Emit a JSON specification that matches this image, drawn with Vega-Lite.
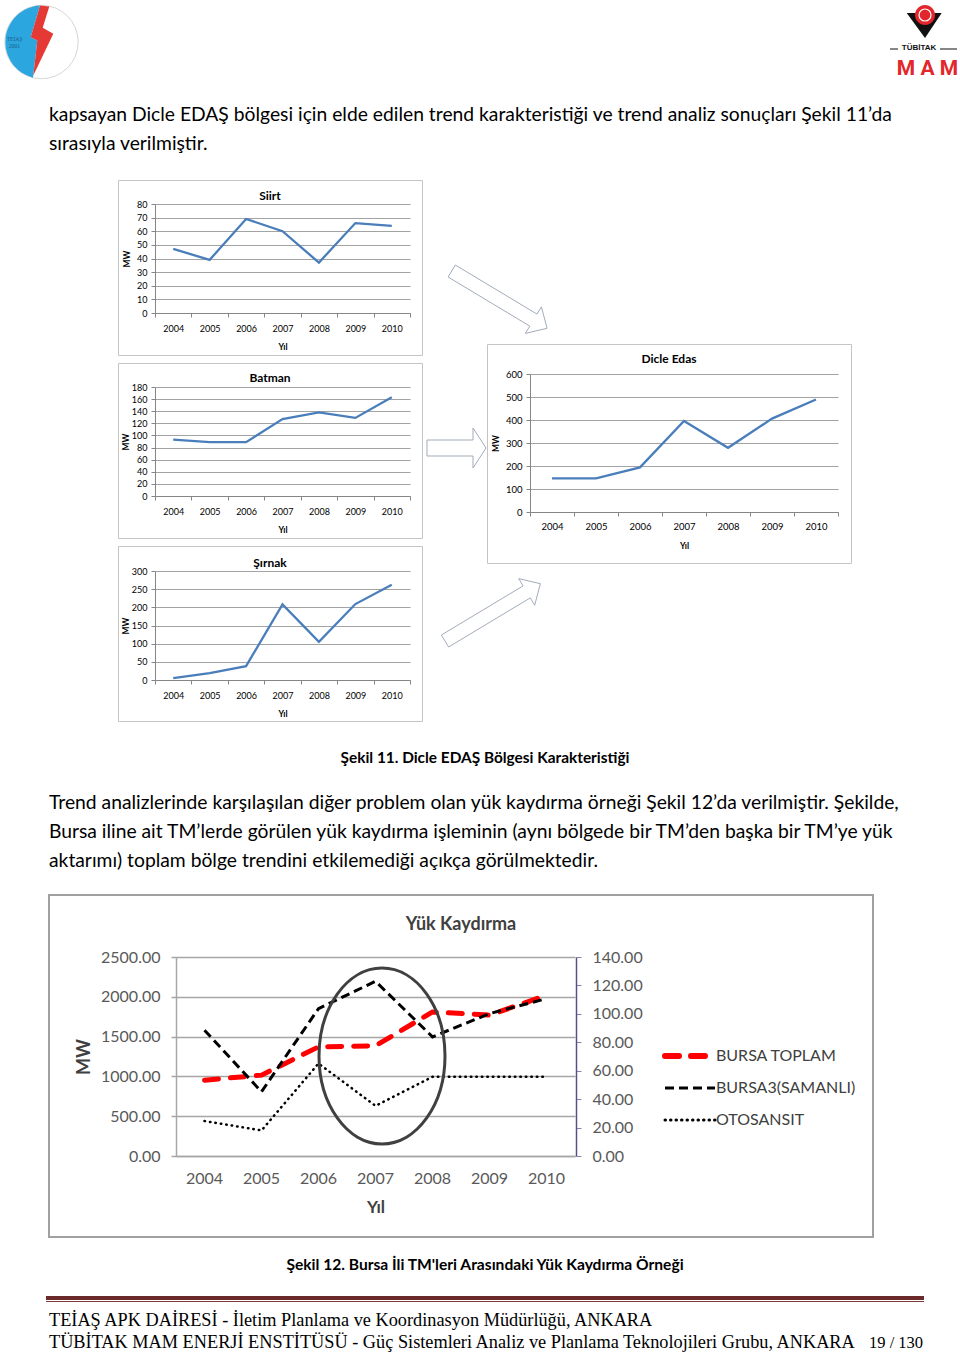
{
  "$schema": "https://vega.github.io/schema/vega-lite/v6.json",
  "padding": 0,
  "background": "white",
  "spacing": 0,
  "config": {
    "view": {"stroke": null},
    "font": "Lato",
    "axis": {"labelFont": "Lato", "titleFont": "Lato"},
    "legend": {"labelFont": "Lato"},
    "title": {"font": "Lato", "color": "#000000"}
  },
  "vconcat": [
    {
      "hconcat": [
        {
          "width": 83, "height": 84,
          "data": {"values": [{"logo": "TEİAŞ"}]},
          "layer": [
            {"mark": {"type": "point", "shape": "circle", "size": 5388, "filled": true, "fill": "white", "stroke": "#d6d6d6", "strokeWidth": 1, "opacity": 1}},
            {"mark": {"type": "point", "shape": "M -1.5 -36.5 A 36.7 36.7 0 0 0 -8.5 35.7 L -4.2 -1.5 L -10.8 -4.8 Z", "size": 4, "filled": true, "fill": "#2ba6de", "strokeWidth": 0, "opacity": 1}},
            {"mark": {"type": "point", "shape": "M -1.5 -36.5 L 7.8 -35.5 L 1.2 -14.2 L 11.8 -8.2 L -8.2 33.5 L -4.2 -1.5 L -10.8 -4.8 Z", "size": 4, "filled": true, "fill": "#e53935", "strokeWidth": 0, "opacity": 1}},
            {"mark": {"type": "text", "text": ["TEİAŞ", "2001"], "font": "Liberation Serif", "fontSize": 5.5, "lineHeight": 7, "dx": -27, "dy": -3, "baseline": "middle", "align": "center", "color": "#1b5f86"}}
          ]
        },
        {"width": 800, "height": 96, "data": {"values": []}, "mark": "point"},
        {
          "width": 77, "height": 84,
          "data": {"values": [{"logo": "TÜBİTAK MAM"}]},
          "layer": [
            {"mark": {"type": "point", "shape": "M -14.8 -29 L 20.2 -29 L 3.5 -4 Z", "size": 4, "filled": true, "fill": "#111111", "strokeWidth": 0, "opacity": 1}},
            {"mark": {"type": "point", "shape": "M -6.5 -27 A 10 10 0 1 0 13.5 -27 A 10 10 0 1 0 -6.5 -27 Z", "size": 4, "filled": true, "fill": "#e2262b", "strokeWidth": 0, "opacity": 1}},
            {"mark": {"type": "point", "shape": "M -2.5 -27 A 6 6 0 1 0 9.5 -27 A 6 6 0 1 0 -2.5 -27 Z", "size": 4, "filled": false, "stroke": "white", "strokeWidth": 1.2, "opacity": 1}},
            {"mark": {"type": "point", "shape": "M -31.5 6.5 L -23.5 6.5 L -23.5 7.5 L -31.5 7.5 Z M 18.5 6.5 L 35.5 6.5 L 35.5 7.5 L 18.5 7.5 Z", "size": 4, "filled": true, "fill": "#111111", "strokeWidth": 0, "opacity": 1}},
            {"mark": {"type": "text", "text": "TÜBİTAK", "font": "Liberation Sans", "fontWeight": "bold", "fontSize": 8, "dx": -2.5, "dy": 6, "baseline": "middle", "align": "center", "color": "#111111"}},
            {"mark": {"type": "text", "text": "M A M", "font": "Roboto", "fontWeight": "bold", "fontSize": 21, "dx": 6, "dy": 27, "baseline": "middle", "align": "center", "color": "#e2262b"}}
          ]
        }
      ],
      "spacing": 0
    },
    {
      "hconcat": [
        {"width": 49, "height": 83, "data": {"values": []}, "mark": "point"},
        {
          "width": 872, "height": 83, "data": {"values": []}, "mark": "point",
          "title": {
            "text": ["kapsayan Dicle EDAŞ bölgesi için elde edilen trend karakteristiği ve trend analiz sonuçları Şekil 11’da", "sırasıyla verilmiştir."],
            "anchor": "start", "frame": "group", "fontSize": 19.3, "fontWeight": "normal", "lineHeight": 29, "offset": -58, "color": "#000000", "font": "Lato"
          }
        }
      ],
      "spacing": 0
    },
    {
      "hconcat": [
        {"width": 117, "height": 543, "data": {"values": []}, "mark": "point"},
        {
          "vconcat": [
            {
              "width": 304, "height": 175,
              "view": {"stroke": "#c4c4c4", "strokeWidth": 1},
              "title": {"text": "Siirt", "fontSize": 12, "fontWeight": "bold", "offset": -23, "anchor": "middle", "frame": "group", "color": "#000000"},
              "data": {"values": [
                {"year": "2004", "mw": 47}, {"year": "2005", "mw": 39}, {"year": "2006", "mw": 69}, {"year": "2007", "mw": 60},
                {"year": "2008", "mw": 37}, {"year": "2009", "mw": 66}, {"year": "2010", "mw": 64}
              ]},
              "mark": {"type": "line", "color": "#4a7ebb", "strokeWidth": 2.3},
              "encoding": {
                "x": {"field": "year", "type": "ordinal", "bandPosition": 0.5,
                  "scale": {"type": "band", "range": [37, 292], "padding": 0},
                  "axis": {"offset": -42, "title": "Yıl", "labelAngle": 0, "tickBand": "extent", "tickSize": 4, "labelPadding": 7, "domainColor": "#868686", "tickColor": "#868686", "labelFontSize": 9, "labelColor": "#000000", "titleFontSize": 8.5, "titleFontWeight": "bold", "titleColor": "#000000", "titlePadding": 9, "grid": false}},
                "y": {"field": "mw", "type": "quantitative",
                  "scale": {"domain": [0, 80], "range": [133, 24], "nice": false},
                  "axis": {"offset": -37, "values": [0, 10, 20, 30, 40, 50, 60, 70, 80], "title": "MW", "titleFontSize": 8.5, "titleFontWeight": "bold", "titleColor": "#000000", "titlePadding": 5, "labelFontSize": 9, "labelColor": "#000000", "labelPadding": 4, "tickSize": 4, "tickColor": "#868686", "domainColor": "#868686", "grid": true, "gridColor": "#8c8c8c", "gridWidth": 0.8}}
              }
            },
            {
              "width": 304, "height": 175,
              "view": {"stroke": "#c4c4c4", "strokeWidth": 1},
              "title": {"text": "Batman", "fontSize": 12, "fontWeight": "bold", "offset": -22, "anchor": "middle", "frame": "group", "color": "#000000"},
              "data": {"values": [
                {"year": "2004", "mw": 93}, {"year": "2005", "mw": 89}, {"year": "2006", "mw": 89}, {"year": "2007", "mw": 127},
                {"year": "2008", "mw": 138}, {"year": "2009", "mw": 129}, {"year": "2010", "mw": 163}
              ]},
              "mark": {"type": "line", "color": "#4a7ebb", "strokeWidth": 2.3},
              "encoding": {
                "x": {"field": "year", "type": "ordinal", "bandPosition": 0.5,
                  "scale": {"type": "band", "range": [37, 292], "padding": 0},
                  "axis": {"offset": -42, "title": "Yıl", "labelAngle": 0, "tickBand": "extent", "tickSize": 4, "labelPadding": 7, "domainColor": "#868686", "tickColor": "#868686", "labelFontSize": 9, "labelColor": "#000000", "titleFontSize": 8.5, "titleFontWeight": "bold", "titleColor": "#000000", "titlePadding": 9, "grid": false}},
                "y": {"field": "mw", "type": "quantitative",
                  "scale": {"domain": [0, 180], "range": [133, 24], "nice": false},
                  "axis": {"offset": -37, "values": [0, 20, 40, 60, 80, 100, 120, 140, 160, 180], "title": "MW", "titleFontSize": 8.5, "titleFontWeight": "bold", "titleColor": "#000000", "titlePadding": 1, "labelFontSize": 9, "labelColor": "#000000", "labelPadding": 4, "tickSize": 4, "tickColor": "#868686", "domainColor": "#868686", "grid": true, "gridColor": "#8c8c8c", "gridWidth": 0.8}}
              }
            },
            {
              "width": 304, "height": 175,
              "view": {"stroke": "#c4c4c4", "strokeWidth": 1},
              "title": {"text": "Şırnak", "fontSize": 12, "fontWeight": "bold", "offset": -24, "anchor": "middle", "frame": "group", "color": "#000000"},
              "data": {"values": [
                {"year": "2004", "mw": 5}, {"year": "2005", "mw": 19}, {"year": "2006", "mw": 38}, {"year": "2007", "mw": 208},
                {"year": "2008", "mw": 105}, {"year": "2009", "mw": 209}, {"year": "2010", "mw": 262}
              ]},
              "mark": {"type": "line", "color": "#4a7ebb", "strokeWidth": 2.3},
              "encoding": {
                "x": {"field": "year", "type": "ordinal", "bandPosition": 0.5,
                  "scale": {"type": "band", "range": [37, 292], "padding": 0},
                  "axis": {"offset": -41, "title": "Yıl", "labelAngle": 0, "tickBand": "extent", "tickSize": 4, "labelPadding": 7, "domainColor": "#868686", "tickColor": "#868686", "labelFontSize": 9, "labelColor": "#000000", "titleFontSize": 8.5, "titleFontWeight": "bold", "titleColor": "#000000", "titlePadding": 9, "grid": false}},
                "y": {"field": "mw", "type": "quantitative",
                  "scale": {"domain": [0, 300], "range": [134, 25], "nice": false},
                  "axis": {"offset": -37, "values": [0, 50, 100, 150, 200, 250, 300], "title": "MW", "titleFontSize": 8.5, "titleFontWeight": "bold", "titleColor": "#000000", "titlePadding": 1, "labelFontSize": 9, "labelColor": "#000000", "labelPadding": 4, "tickSize": 4, "tickColor": "#868686", "domainColor": "#868686", "grid": true, "gridColor": "#8c8c8c", "gridWidth": 0.8}}
              }
            }
          ],
          "spacing": 6
        },
        {"width": 1, "height": 543, "data": {"values": []}, "mark": "point"},
        {
          "vconcat": [
            {"width": 364, "height": 82, "data": {"values": []}, "mark": "point"},
            {
              "width": 364, "height": 219,
              "view": {"stroke": "#c4c4c4", "strokeWidth": 1},
              "title": {"text": "Dicle Edas", "fontSize": 12, "fontWeight": "bold", "offset": -103, "anchor": "middle", "frame": "group", "color": "#000000"},
              "layer": [
                {
                  "data": {"values": [
                    {"year": "2004", "mw": 146}, {"year": "2005", "mw": 146}, {"year": "2006", "mw": 194}, {"year": "2007", "mw": 396},
                    {"year": "2008", "mw": 279}, {"year": "2009", "mw": 406}, {"year": "2010", "mw": 489}
                  ]},
                  "mark": {"type": "line", "color": "#4a7ebb", "strokeWidth": 2.3},
                  "encoding": {
                    "x": {"field": "year", "type": "ordinal", "bandPosition": 0.5,
                      "scale": {"type": "band", "range": [43, 351], "padding": 0},
                      "axis": {"offset": -51, "title": "Yıl", "labelAngle": 0, "tickBand": "extent", "tickSize": 4, "labelPadding": 5, "domainColor": "#868686", "tickColor": "#868686", "labelFontSize": 9.5, "labelColor": "#000000", "titleFontSize": 8.5, "titleFontWeight": "bold", "titleColor": "#000000", "titlePadding": 11, "grid": false}},
                    "y": {"field": "mw", "type": "quantitative",
                      "scale": {"domain": [0, 600], "range": [168, 30], "nice": false},
                      "axis": {"offset": -43, "values": [0, 100, 200, 300, 400, 500, 600], "title": "MW", "titleFontSize": 8.5, "titleFontWeight": "bold", "titleColor": "#000000", "titlePadding": 5, "labelFontSize": 9.5, "labelColor": "#000000", "labelPadding": 4, "tickSize": 4, "tickColor": "#868686", "domainColor": "#868686", "grid": true, "gridColor": "#8c8c8c", "gridWidth": 0.8}}
                  }
                },
                {
                  "data": {"values": [{"arrow": "Siirt"}, {"arrow": "Batman"}, {"arrow": "Şırnak"}]},
                  "mark": {"type": "point", "size": 4, "filled": true, "fill": "white", "stroke": "#a3acbb", "strokeWidth": 1, "opacity": 1},
                  "encoding": {
                    "shape": {"field": "arrow", "type": "nominal",
                      "scale": {"domain": ["Siirt", "Batman", "Şırnak"], "range": [
                        "M -213.7 -188.5 L -132 -139.4 L -127.6 -146.7 L -121.9 -125.2 L -143.6 -120.1 L -139.2 -127.4 L -220.9 -176.5 Z",
                        "M -242 -13.5 L -196 -13.5 L -196 -25.5 L -183 -5.5 L -196 14.5 L -196 2.5 L -242 2.5 Z",
                        "M -227.6 181.5 L -145.9 132.4 L -150.3 125.1 L -128.6 130.2 L -134.3 151.7 L -138.7 144.4 L -220.4 193.5 Z"
                      ]},
                      "legend": null}
                  }
                }
              ]
            }
          ],
          "spacing": 0
        }
      ],
      "spacing": 0
    },
    {
      "hconcat": [
        {"width": 49, "height": 58, "data": {"values": []}, "mark": "point"},
        {
          "width": 872, "height": 58, "data": {"values": []}, "mark": "point",
          "title": {"text": "Şekil 11. Dicle EDAŞ Bölgesi Karakteristiği", "anchor": "middle", "frame": "group", "fontSize": 15.4, "fontWeight": "bold", "offset": -43, "color": "#000000", "font": "Lato"}
        }
      ],
      "spacing": 0
    },
    {
      "hconcat": [
        {"width": 49, "height": 113, "data": {"values": []}, "mark": "point"},
        {
          "width": 872, "height": 113, "data": {"values": []}, "mark": "point",
          "title": {
            "text": ["Trend analizlerinde karşılaşılan diğer problem olan yük kaydırma örneği Şekil 12’da verilmiştir. Şekilde,", "Bursa iline ait TM’lerde görülen yük kaydırma işleminin (aynı bölgede bir TM’den başka bir TM’ye yük", "aktarımı) toplam bölge trendini etkilemediği açıkça görülmektedir."],
            "anchor": "start", "frame": "group", "fontSize": 19.3, "fontWeight": "normal", "lineHeight": 29, "offset": -90, "color": "#000000", "font": "Lato"
          }
        }
      ],
      "spacing": 0
    },
    {
      "hconcat": [
        {"width": 48, "height": 342, "data": {"values": []}, "mark": "point"},
        {
          "width": 824, "height": 342,
          "view": {"stroke": "#a0a0a0", "strokeWidth": 2},
          "title": {"text": "Yük Kaydırma", "fontSize": 18, "fontWeight": "bold", "color": "#404040", "offset": -39, "anchor": "middle", "frame": "group"},
          "data": {"values": [
            {"year": "2004", "series": "BURSA TOPLAM", "value": 953},
            {"year": "2005", "series": "BURSA TOPLAM", "value": 1016},
            {"year": "2006", "series": "BURSA TOPLAM", "value": 1371},
            {"year": "2007", "series": "BURSA TOPLAM", "value": 1384},
            {"year": "2008", "series": "BURSA TOPLAM", "value": 1810},
            {"year": "2009", "series": "BURSA TOPLAM", "value": 1770},
            {"year": "2010", "series": "BURSA TOPLAM", "value": 2019},
            {"year": "2004", "series": "BURSA3(SAMANLI)", "value": 88.5},
            {"year": "2005", "series": "BURSA3(SAMANLI)", "value": 45.2},
            {"year": "2006", "series": "BURSA3(SAMANLI)", "value": 103.7},
            {"year": "2007", "series": "BURSA3(SAMANLI)", "value": 122.9},
            {"year": "2008", "series": "BURSA3(SAMANLI)", "value": 83.8},
            {"year": "2009", "series": "BURSA3(SAMANLI)", "value": 100.2},
            {"year": "2010", "series": "BURSA3(SAMANLI)", "value": 110.7},
            {"year": "2004", "series": "OTOSANSIT", "value": 24.6},
            {"year": "2005", "series": "OTOSANSIT", "value": 18.0},
            {"year": "2006", "series": "OTOSANSIT", "value": 65.1},
            {"year": "2007", "series": "OTOSANSIT", "value": 35.3},
            {"year": "2008", "series": "OTOSANSIT", "value": 55.7},
            {"year": "2009", "series": "OTOSANSIT", "value": 55.7},
            {"year": "2010", "series": "OTOSANSIT", "value": 55.7}
          ]},
          "encoding": {
            "x": {"field": "year", "type": "ordinal", "bandPosition": 0.5,
              "scale": {"type": "band", "range": [127, 526], "padding": 0},
              "axis": {"offset": -81, "labelAngle": 0, "ticks": false, "labelPadding": 14, "domainColor": "#a6a6a6", "domainWidth": 1.5, "labelFontSize": 16, "labelColor": "#595959", "title": "Yıl", "titleFontSize": 17, "titleFontWeight": "bold", "titleColor": "#404040", "titlePadding": 13, "grid": false}}
          },
          "layer": [
            {
              "transform": [{"filter": "datum.series === 'BURSA TOPLAM'"}],
              "mark": {"type": "line", "strokeWidth": 5, "strokeCap": "round"},
              "encoding": {
                "y": {"field": "value", "type": "quantitative",
                  "scale": {"domain": [0, 2500], "range": [261, 62], "nice": false},
                  "axis": {"orient": "left", "offset": -127, "values": [0, 500, 1000, 1500, 2000, 2500], "format": ".2f", "grid": true, "gridColor": "#a6a6a6", "gridWidth": 1.5, "domainColor": "#a6a6a6", "domainWidth": 1.5, "tickSize": 5, "tickColor": "#a6a6a6", "tickWidth": 1.5, "labelFontSize": 16, "labelColor": "#595959", "labelPadding": 11, "title": "MW", "titleFontSize": 18, "titleFontWeight": "bold", "titleColor": "#404040", "titlePadding": 7}},
                "color": {"field": "series", "type": "nominal",
                  "scale": {"domain": ["BURSA TOPLAM", "BURSA3(SAMANLI)", "OTOSANSIT"], "range": ["#ff0000", "#000000", "#000000"]},
                  "legend": {"title": null, "orient": "none", "legendX": 682, "legendY": 1048, "gridAlign": "all", "symbolType": "M -2.5 0 L 2.5 0", "symbolSize": 400, "labelOffset": 18, "rowPadding": 12, "labelFontSize": 16, "labelColor": "#404040", "symbolStrokeWidth": 3,
                    "encode": {"symbols": {"update": {"strokeWidth": {"signal": "datum.value === 'BURSA TOPLAM' ? 6 : 3"}, "strokeCap": {"signal": "datum.value === 'BURSA TOPLAM' || datum.value === 'OTOSANSIT' ? 'round' : 'butt'"}}}}}},
                "strokeDash": {"field": "series", "type": "nominal",
                  "scale": {"domain": ["BURSA TOPLAM", "BURSA3(SAMANLI)", "OTOSANSIT"], "range": [[14, 12], [9, 5], [0.5, 5]]},
                  "legend": {"title": null, "orient": "none", "legendX": 682, "legendY": 1048, "gridAlign": "all", "symbolType": "M -2.5 0 L 2.5 0", "symbolSize": 400, "labelOffset": 18, "rowPadding": 12, "labelFontSize": 16, "labelColor": "#404040", "symbolStrokeWidth": 3,
                    "encode": {"symbols": {"update": {"strokeWidth": {"signal": "datum.value === 'BURSA TOPLAM' ? 6 : 3"}, "strokeCap": {"signal": "datum.value === 'BURSA TOPLAM' || datum.value === 'OTOSANSIT' ? 'round' : 'butt'"}}}}}}
              }
            },
            {
              "encoding": {
                "y": {"field": "value", "type": "quantitative",
                  "scale": {"domain": [0, 140], "range": [261, 62], "nice": false},
                  "axis": {"orient": "right", "offset": -297, "values": [0, 20, 40, 60, 80, 100, 120, 140], "format": ".2f", "grid": false, "domainColor": "#5c4c88", "domainWidth": 1.5, "tickSize": 5, "tickColor": "#8c84a8", "labelFontSize": 16, "labelColor": "#595959", "labelPadding": 11, "title": null}},
                "color": {"field": "series", "type": "nominal",
                  "scale": {"domain": ["BURSA TOPLAM", "BURSA3(SAMANLI)", "OTOSANSIT"], "range": ["#ff0000", "#000000", "#000000"]}},
                "strokeDash": {"field": "series", "type": "nominal",
                  "scale": {"domain": ["BURSA TOPLAM", "BURSA3(SAMANLI)", "OTOSANSIT"], "range": [[14, 12], [9, 5], [0.5, 5]]}}
              },
              "layer": [
                {"transform": [{"filter": "datum.series === 'BURSA3(SAMANLI)'"}], "mark": {"type": "line", "strokeWidth": 3, "strokeCap": "butt"}},
                {"transform": [{"filter": "datum.series === 'OTOSANSIT'"}], "mark": {"type": "line", "strokeWidth": 2.5, "strokeCap": "round"}}
              ]
            },
            {
              "data": {"values": [{"year": "2007", "value": 1256}]},
              "mark": {"type": "point", "shape": "M -56.5 0 A 63 88 0 1 0 69.5 0 A 63 88 0 1 0 -56.5 0 Z", "size": 4, "filled": false, "stroke": "#404040", "strokeWidth": 3, "opacity": 1},
              "encoding": {
                "y": {"field": "value", "type": "quantitative", "scale": {"domain": [0, 2500], "range": [261, 62], "nice": false}, "axis": null}
              }
            }
          ],
          "resolve": {"scale": {"y": "independent"}, "axis": {"y": "independent"}}
        }
      ],
      "spacing": 0
    },
    {
      "hconcat": [
        {"width": 49, "height": 58, "data": {"values": []}, "mark": "point"},
        {
          "width": 872, "height": 58, "data": {"values": []}, "mark": "point",
          "title": {"text": "Şekil 12. Bursa İli TM'leri Arasındaki Yük Kaydırma Örneği", "anchor": "middle", "frame": "group", "fontSize": 15.6, "fontWeight": "bold", "offset": -36, "color": "#000000", "font": "Lato"}
        }
      ],
      "spacing": 0
    },
    {
      "hconcat": [
        {"width": 46, "height": 4, "data": {"values": []}, "mark": "point"},
        {"width": 878, "height": 4, "view": {"fill": "#6b2a2a", "stroke": null}, "data": {"values": []}, "mark": "point"}
      ],
      "spacing": 0
    },
    {"width": 1, "height": 1, "data": {"values": []}, "mark": "point"},
    {
      "hconcat": [
        {"width": 46, "height": 1, "data": {"values": []}, "mark": "point"},
        {"width": 878, "height": 1, "view": {"fill": "#7a3a3a", "stroke": null}, "data": {"values": []}, "mark": "point"}
      ],
      "spacing": 0
    },
    {
      "hconcat": [
        {"width": 49, "height": 50, "data": {"values": []}, "mark": "point"},
        {
          "width": 815, "height": 50, "data": {"values": []}, "mark": "point",
          "title": {
            "text": ["TEİAŞ APK DAİRESİ - İletim Planlama ve Koordinasyon Müdürlüğü, ANKARA", "TÜBİTAK MAM ENERJİ ENSTİTÜSÜ - Güç Sistemleri Analiz ve Planlama Teknolojileri Grubu, ANKARA"],
            "anchor": "start", "frame": "group", "fontSize": 18.3, "fontWeight": "normal", "lineHeight": 22, "offset": -50.5, "color": "#000000", "font": "Liberation Serif"
          }
        },
        {"width": 5, "height": 50, "data": {"values": []}, "mark": "point"},
        {
          "width": 60, "height": 50, "data": {"values": []}, "mark": "point",
          "title": {"text": "19 / 130", "anchor": "start", "frame": "group", "fontSize": 16.5, "fontWeight": "normal", "offset": -49.5, "color": "#000000", "font": "Liberation Serif"}
        }
      ],
      "spacing": 0
    }
  ]
}
